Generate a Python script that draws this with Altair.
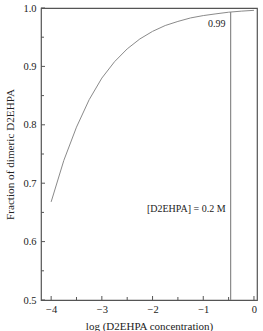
import altair as alt
import pandas as pd

log_conc = [-4.0, -3.75, -3.5, -3.25, -3.0, -2.75, -2.5, -2.25, -2.0,
            -1.75, -1.5, -1.25, -1.0, -0.75, -0.5, -0.25, 0.0]
frac_dimer = [0.668, 0.739, 0.796, 0.843, 0.880, 0.908, 0.930, 0.947, 0.960,
              0.970, 0.977, 0.983, 0.987, 0.990, 0.9928, 0.9946, 0.996]

x_major = [-4, -3, -2, -1, 0]
x_minor = [-3.5, -2.5, -1.5, -0.5]
y_major = [0.5, 0.6, 0.7, 0.8, 0.9, 1.0]
y_minor = [0.55, 0.65, 0.75, 0.85, 0.95]

marker_x = [-0.46]
marker_y0 = [0.5]
marker_y1 = [0.993]

ann_text = ["0.99", "[D2EHPA] = 0.2 M"]
ann_x = [-0.56, -0.56]
ann_y = [0.972, 0.656]

FONT = "Liberation Serif"
W, H = 216, 292

xs = alt.Scale(domain=[-4.2, 0.06], nice=False, zero=False)
ys = alt.Scale(domain=[0.5, 1.0], nice=False, zero=False)

curve_df = pd.DataFrame({"x": log_conc, "y": frac_dimer})

x_axis = alt.Axis(values=x_major, title="log (D2EHPA concentration)", ticks=False,
                  domain=False, grid=False, labelFont=FONT, labelFontSize=10.5,
                  labelColor="#222", labelPadding=4, titleFont=FONT, titleFontSize=11,
                  titleFontWeight="normal", titleColor="#222", titlePadding=6,
                  format="d")
y_axis = alt.Axis(values=y_major, title="Fraction of dimeric D2EHPA", ticks=False,
                  domain=False, grid=False, labelFont=FONT, labelFontSize=10.5,
                  labelColor="#222", labelPadding=5, titleFont=FONT, titleFontSize=11.2,
                  titleFontWeight="normal", titleColor="#222", titlePadding=7,
                  format=".1f")

curve = alt.Chart(curve_df).mark_line(color="#8a8a8a", strokeWidth=1).encode(
    x=alt.X("x:Q", scale=xs, axis=x_axis),
    y=alt.Y("y:Q", scale=ys, axis=y_axis),
)

xt_major = alt.Chart(pd.DataFrame({"x": x_major})).mark_rule(color="#555", strokeWidth=1).encode(
    x=alt.X("x:Q", scale=xs), y=alt.value(H), y2=alt.value(H - 4))
xt_minor = alt.Chart(pd.DataFrame({"x": x_minor})).mark_rule(color="#555", strokeWidth=1).encode(
    x=alt.X("x:Q", scale=xs), y=alt.value(H), y2=alt.value(H - 3))
yt_major = alt.Chart(pd.DataFrame({"y": y_major})).mark_rule(color="#555", strokeWidth=1).encode(
    y=alt.Y("y:Q", scale=ys), x=alt.value(0), x2=alt.value(4))
yt_minor = alt.Chart(pd.DataFrame({"y": y_minor})).mark_rule(color="#555", strokeWidth=1).encode(
    y=alt.Y("y:Q", scale=ys), x=alt.value(0), x2=alt.value(3))

vline = alt.Chart(pd.DataFrame({"x": marker_x, "y0": marker_y0, "y1": marker_y1})).mark_rule(
    color="#8a8a8a", strokeWidth=1.2).encode(
    x=alt.X("x:Q", scale=xs), y=alt.Y("y0:Q", scale=ys), y2="y1:Q")

texts = alt.Chart(pd.DataFrame({"t": ann_text, "x": ann_x, "y": ann_y})).mark_text(
    align="right", baseline="middle", font=FONT, fontSize=10, color="#222").encode(
    x=alt.X("x:Q", scale=xs), y=alt.Y("y:Q", scale=ys), text="t:N")

chart = alt.layer(curve, xt_major, xt_minor, yt_major, yt_minor, vline, texts).properties(
    width=W, height=H,
    autosize=alt.AutoSizeParams(type="none"),
    padding={"left": 41, "top": 8, "right": 6, "bottom": 31},
    background="white",
).configure_view(stroke="#555", strokeWidth=1.2)

chart.save("out.html", embed_options={"renderer": "svg", "actions": False})
